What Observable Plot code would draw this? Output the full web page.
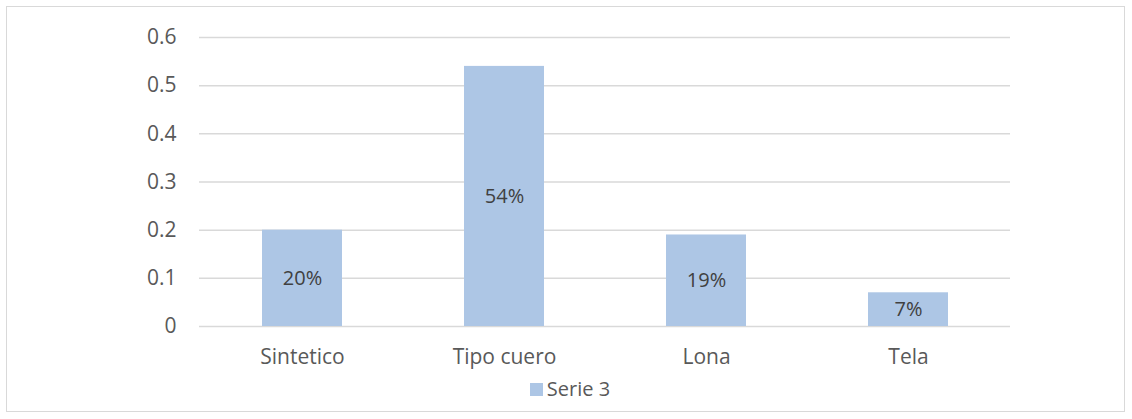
<!DOCTYPE html>
<html><head><meta charset="utf-8">
<script src="https://cdn.jsdelivr.net/npm/d3@7"></script>
<script src="https://cdn.jsdelivr.net/npm/@observablehq/plot@0.6"></script>
<style>
body{margin:0;background:#fff;}
#wrap{position:relative;width:1132px;height:419px;overflow:hidden;font-family:"Open Sans",sans-serif;}
#frame{position:absolute;left:6px;top:6px;width:1119px;height:406px;border:1px solid #d9d9d9;box-sizing:border-box;}
#chart{position:absolute;left:0;top:0;}
#legend{position:absolute;top:376px;left:0;width:1132px;text-align:center;font-size:20px;line-height:26px;color:#595959;padding-left:8px;box-sizing:border-box;}
#legend .sw{display:inline-block;width:13px;height:13px;background:#adc6e5;margin-right:4px;vertical-align:0px;}
</style></head>
<body><div id="wrap"><div id="frame"></div><div id="chart"></div><div id="legend"><span class="sw"></span>Serie 3</div></div>
<script>
const categories = ["Sintetico","Tipo cuero","Lona","Tela"];
const values = [0.20,0.54,0.19,0.07];
const labels = ["20%","54%","19%","7%"];
const yTicks = [0,0.1,0.2,0.3,0.4,0.5,0.6];
const seriesName = "Serie 3";

const data = categories.map((c,i)=>({cat:c,value:values[i],label:labels[i]}));
const plot = Plot.plot({
  width:1132, height:376,
  marginLeft:199, marginRight:122, marginTop:37, marginBottom:50,
  style:{fontFamily:"'Open Sans',sans-serif",fontSize:"21px",color:"#595959",background:"transparent"},
  x:{domain:categories,paddingInner:0.605,paddingOuter:0.3025,label:null},
  y:{domain:[0,0.6],ticks:yTicks,label:null},
  marks:[
    Plot.gridY(yTicks,{stroke:"#d9d9d9",strokeOpacity:1,strokeWidth:1.5}),
    Plot.barY(data,{x:"cat",y:"value",fill:"#adc6e5"}),
    Plot.text(data,{x:"cat",y:d=>d.value/2,text:"label",fill:"#404040",fontSize:20}),
    Plot.axisY({ticks:yTicks,tickSize:0,tickPadding:23,fontSize:21,tickFormat:d=>d===0?"0":String(d),label:null}),
    Plot.axisX({tickSize:0,tickPadding:23,fontSize:21,label:null})
  ]
});
document.getElementById("chart").appendChild(plot);
</script></body></html>
